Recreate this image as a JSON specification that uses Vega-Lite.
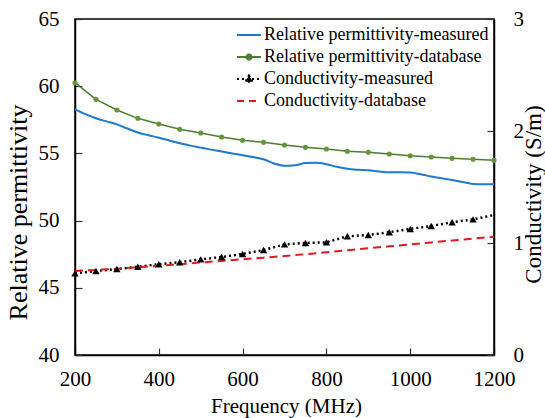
{
  "$schema": "https://vega.github.io/schema/vega-lite/v6.json",
  "width": 419,
  "height": 336,
  "autosize": {"type": "none"},
  "padding": {"left": 75, "top": 19, "right": 51, "bottom": 63},
  "background": "white",
  "config": {
    "font": "Liberation Serif",
    "view": {"stroke": "black", "strokeWidth": 1.5},
    "legend": {
      "orient": "none",
      "legendX": 161,
      "legendY": 3,
      "labelFont": "Liberation Serif",
      "labelFontSize": 18,
      "labelColor": "black",
      "labelLimit": 400,
      "labelOffset": 2,
      "symbolSize": 576,
      "symbolStrokeWidth": 2,
      "rowPadding": -1
    }
  },
  "datasets": {
    "all": [
      {"series": "Relative permittivity-measured", "freq": 200, "value": 58.28},
      {"series": "Relative permittivity-measured", "freq": 225, "value": 57.92},
      {"series": "Relative permittivity-measured", "freq": 250, "value": 57.62},
      {"series": "Relative permittivity-measured", "freq": 275, "value": 57.38},
      {"series": "Relative permittivity-measured", "freq": 300, "value": 57.16},
      {"series": "Relative permittivity-measured", "freq": 325, "value": 56.85},
      {"series": "Relative permittivity-measured", "freq": 350, "value": 56.55},
      {"series": "Relative permittivity-measured", "freq": 375, "value": 56.35},
      {"series": "Relative permittivity-measured", "freq": 400, "value": 56.17},
      {"series": "Relative permittivity-measured", "freq": 425, "value": 55.96},
      {"series": "Relative permittivity-measured", "freq": 450, "value": 55.75},
      {"series": "Relative permittivity-measured", "freq": 475, "value": 55.58},
      {"series": "Relative permittivity-measured", "freq": 500, "value": 55.43},
      {"series": "Relative permittivity-measured", "freq": 525, "value": 55.28},
      {"series": "Relative permittivity-measured", "freq": 550, "value": 55.14},
      {"series": "Relative permittivity-measured", "freq": 575, "value": 55.0},
      {"series": "Relative permittivity-measured", "freq": 600, "value": 54.87},
      {"series": "Relative permittivity-measured", "freq": 625, "value": 54.73},
      {"series": "Relative permittivity-measured", "freq": 650, "value": 54.56},
      {"series": "Relative permittivity-measured", "freq": 675, "value": 54.25},
      {"series": "Relative permittivity-measured", "freq": 700, "value": 54.08},
      {"series": "Relative permittivity-measured", "freq": 725, "value": 54.12},
      {"series": "Relative permittivity-measured", "freq": 750, "value": 54.28},
      {"series": "Relative permittivity-measured", "freq": 775, "value": 54.3},
      {"series": "Relative permittivity-measured", "freq": 800, "value": 54.2},
      {"series": "Relative permittivity-measured", "freq": 825, "value": 54.0},
      {"series": "Relative permittivity-measured", "freq": 850, "value": 53.85},
      {"series": "Relative permittivity-measured", "freq": 875, "value": 53.78},
      {"series": "Relative permittivity-measured", "freq": 900, "value": 53.74},
      {"series": "Relative permittivity-measured", "freq": 925, "value": 53.66},
      {"series": "Relative permittivity-measured", "freq": 950, "value": 53.6},
      {"series": "Relative permittivity-measured", "freq": 975, "value": 53.6},
      {"series": "Relative permittivity-measured", "freq": 1000, "value": 53.58},
      {"series": "Relative permittivity-measured", "freq": 1025, "value": 53.45},
      {"series": "Relative permittivity-measured", "freq": 1050, "value": 53.28},
      {"series": "Relative permittivity-measured", "freq": 1075, "value": 53.15},
      {"series": "Relative permittivity-measured", "freq": 1100, "value": 53.02},
      {"series": "Relative permittivity-measured", "freq": 1125, "value": 52.88},
      {"series": "Relative permittivity-measured", "freq": 1150, "value": 52.73},
      {"series": "Relative permittivity-measured", "freq": 1175, "value": 52.7},
      {"series": "Relative permittivity-measured", "freq": 1200, "value": 52.7},
      {"series": "Relative permittivity-database", "freq": 200, "value": 60.26},
      {"series": "Relative permittivity-database", "freq": 250, "value": 59.02},
      {"series": "Relative permittivity-database", "freq": 300, "value": 58.23},
      {"series": "Relative permittivity-database", "freq": 350, "value": 57.61},
      {"series": "Relative permittivity-database", "freq": 400, "value": 57.19},
      {"series": "Relative permittivity-database", "freq": 450, "value": 56.79},
      {"series": "Relative permittivity-database", "freq": 500, "value": 56.52},
      {"series": "Relative permittivity-database", "freq": 550, "value": 56.22},
      {"series": "Relative permittivity-database", "freq": 600, "value": 55.97},
      {"series": "Relative permittivity-database", "freq": 650, "value": 55.83},
      {"series": "Relative permittivity-database", "freq": 700, "value": 55.63},
      {"series": "Relative permittivity-database", "freq": 750, "value": 55.45},
      {"series": "Relative permittivity-database", "freq": 800, "value": 55.33},
      {"series": "Relative permittivity-database", "freq": 850, "value": 55.16},
      {"series": "Relative permittivity-database", "freq": 900, "value": 55.08},
      {"series": "Relative permittivity-database", "freq": 950, "value": 54.96},
      {"series": "Relative permittivity-database", "freq": 1000, "value": 54.83},
      {"series": "Relative permittivity-database", "freq": 1050, "value": 54.73},
      {"series": "Relative permittivity-database", "freq": 1100, "value": 54.63},
      {"series": "Relative permittivity-database", "freq": 1150, "value": 54.56},
      {"series": "Relative permittivity-database", "freq": 1200, "value": 54.49},
      {"series": "Conductivity-measured", "freq": 200, "value": 0.729},
      {"series": "Conductivity-measured", "freq": 250, "value": 0.75},
      {"series": "Conductivity-measured", "freq": 300, "value": 0.768},
      {"series": "Conductivity-measured", "freq": 350, "value": 0.788},
      {"series": "Conductivity-measured", "freq": 400, "value": 0.81},
      {"series": "Conductivity-measured", "freq": 450, "value": 0.828},
      {"series": "Conductivity-measured", "freq": 500, "value": 0.854},
      {"series": "Conductivity-measured", "freq": 550, "value": 0.875},
      {"series": "Conductivity-measured", "freq": 600, "value": 0.902},
      {"series": "Conductivity-measured", "freq": 650, "value": 0.937},
      {"series": "Conductivity-measured", "freq": 700, "value": 0.988},
      {"series": "Conductivity-measured", "freq": 750, "value": 1.0},
      {"series": "Conductivity-measured", "freq": 800, "value": 1.006},
      {"series": "Conductivity-measured", "freq": 850, "value": 1.06},
      {"series": "Conductivity-measured", "freq": 900, "value": 1.071},
      {"series": "Conductivity-measured", "freq": 950, "value": 1.096},
      {"series": "Conductivity-measured", "freq": 1000, "value": 1.125},
      {"series": "Conductivity-measured", "freq": 1050, "value": 1.152},
      {"series": "Conductivity-measured", "freq": 1100, "value": 1.185},
      {"series": "Conductivity-measured", "freq": 1150, "value": 1.211},
      {"series": "Conductivity-measured", "freq": 1200, "value": 1.25},
      {"series": "Conductivity-database", "freq": 200, "value": 0.75},
      {"series": "Conductivity-database", "freq": 250, "value": 0.76},
      {"series": "Conductivity-database", "freq": 300, "value": 0.77},
      {"series": "Conductivity-database", "freq": 350, "value": 0.783},
      {"series": "Conductivity-database", "freq": 400, "value": 0.797},
      {"series": "Conductivity-database", "freq": 450, "value": 0.81},
      {"series": "Conductivity-database", "freq": 500, "value": 0.826},
      {"series": "Conductivity-database", "freq": 550, "value": 0.84},
      {"series": "Conductivity-database", "freq": 600, "value": 0.855},
      {"series": "Conductivity-database", "freq": 650, "value": 0.869},
      {"series": "Conductivity-database", "freq": 700, "value": 0.884},
      {"series": "Conductivity-database", "freq": 750, "value": 0.9},
      {"series": "Conductivity-database", "freq": 800, "value": 0.918},
      {"series": "Conductivity-database", "freq": 850, "value": 0.935},
      {"series": "Conductivity-database", "freq": 900, "value": 0.953},
      {"series": "Conductivity-database", "freq": 950, "value": 0.97},
      {"series": "Conductivity-database", "freq": 1000, "value": 0.988},
      {"series": "Conductivity-database", "freq": 1050, "value": 1.005},
      {"series": "Conductivity-database", "freq": 1100, "value": 1.022},
      {"series": "Conductivity-database", "freq": 1150, "value": 1.039},
      {"series": "Conductivity-database", "freq": 1200, "value": 1.056}
    ]
  },
  "data": {"name": "all"},
  "encoding": {
    "x": {
      "field": "freq",
      "type": "quantitative",
      "scale": {"domain": [200, 1200], "nice": false, "zero": false},
      "axis": {
        "title": "Frequency (MHz)",
        "values": [200, 400, 600, 800, 1000, 1200],
        "format": "d",
        "grid": false,
        "domainColor": "black",
        "domainWidth": 1.5,
        "tickColor": "#333333",
        "tickWidth": 1.2,
        "tickSize": -7,
        "labelFont": "Liberation Serif",
        "labelFontSize": 21,
        "labelColor": "black",
        "labelFlush": false,
        "labelOverlap": false,
        "labelPadding": 20,
        "titleFont": "Liberation Serif",
        "titleFontSize": 21,
        "titleFontWeight": "normal",
        "titleColor": "black",
        "titleX": 211,
        "titleY": 57,
        "titleBaseline": "alphabetic",
        "titleAlign": "center"
      }
    }
  },
  "layer": [
    {
      "layer": [
        {
          "transform": [{"filter": "datum.series === 'Relative permittivity-measured'"}],
          "mark": {"type": "line", "strokeWidth": 2, "interpolate": "monotone", "color": "#1F78D2"},
          "encoding": {
            "y": {
              "field": "value",
              "type": "quantitative",
              "scale": {"domain": [40, 65], "nice": false, "zero": false},
              "axis": {
                "title": "Relative permittivity",
                "orient": "left",
                "values": [40, 45, 50, 55, 60, 65],
                "format": "d",
                "grid": false,
                "domainColor": "black",
                "domainWidth": 1.5,
                "tickColor": "#333333",
                "tickWidth": 1.2,
                "tickSize": -7,
                "labelFont": "Liberation Serif",
                "labelFontSize": 21,
                "labelColor": "black",
                "labelFlush": false,
                "labelOverlap": false,
                "labelPadding": 23,
                "titleFont": "Liberation Serif",
                "titleFontSize": 26,
                "titleFontWeight": "normal",
                "titleColor": "black",
                "titleAngle": 270,
                "titleX": -49,
                "titleY": 193,
                "titleBaseline": "alphabetic",
                "titleAlign": "center"
              }
            }
          }
        },
        {
          "transform": [{"filter": "datum.series === 'Relative permittivity-database'"}],
          "mark": {"type": "line", "strokeWidth": 1.5, "color": "#4E7D2F"},
          "encoding": {
            "y": {"field": "value", "type": "quantitative"}
          }
        },
        {
          "transform": [{"filter": "datum.series === 'Relative permittivity-database'"}],
          "mark": {"type": "point", "shape": "circle", "filled": true, "size": 26, "color": "#63963A", "opacity": 1},
          "encoding": {
            "y": {"field": "value", "type": "quantitative"}
          }
        }
      ]
    },
    {
      "layer": [
        {
          "transform": [{"filter": "datum.series === 'Conductivity-measured'"}],
          "mark": {"type": "line", "strokeWidth": 2.5, "strokeDash": [2, 3], "color": "#000000"},
          "encoding": {
            "y": {
              "field": "value",
              "type": "quantitative",
              "scale": {"domain": [0, 3], "nice": false},
              "axis": {
                "title": "Conductivity (S/m)",
                "orient": "right",
                "values": [0, 1, 2, 3],
                "format": "d",
                "grid": false,
                "domainColor": "black",
                "domainWidth": 1.5,
                "tickColor": "#333333",
                "tickWidth": 1.2,
                "tickSize": -7,
                "labelFont": "Liberation Serif",
                "labelFontSize": 21,
                "labelColor": "black",
                "labelFlush": false,
                "labelOverlap": false,
                "labelPadding": 26,
                "titleFont": "Liberation Serif",
                "titleFontSize": 23,
                "titleFontWeight": "normal",
                "titleColor": "black",
                "titleAngle": 270,
                "titleX": 46,
                "titleY": 175,
                "titleBaseline": "alphabetic",
                "titleAlign": "center"
              }
            }
          }
        },
        {
          "transform": [{"filter": "datum.series === 'Conductivity-database'"}],
          "mark": {"type": "line", "strokeWidth": 2, "strokeDash": [8, 5], "color": "#E31A1C"},
          "encoding": {
            "y": {"field": "value", "type": "quantitative"}
          }
        },
        {
          "transform": [{"filter": "datum.series === 'Conductivity-measured' && datum.freq < 1200"}],
          "mark": {"type": "point", "shape": "triangle-up", "filled": true, "size": 55, "color": "#000000", "opacity": 1},
          "encoding": {
            "y": {"field": "value", "type": "quantitative"}
          }
        },
        {
          "transform": [{"filter": "datum.freq < 0"}],
          "mark": {"type": "point", "opacity": 1},
          "encoding": {
            "y": {"field": "value", "type": "quantitative"},
            "fill": {
              "field": "series",
              "type": "nominal",
              "scale": {
                "domain": ["Relative permittivity-measured", "Relative permittivity-database", "Conductivity-measured", "Conductivity-database"],
                "range": ["transparent", "#63963A", "#000000", "transparent"]
              },
              "legend": {"title": null}
            },
            "stroke": {
              "field": "series",
              "type": "nominal",
              "scale": {
                "domain": ["Relative permittivity-measured", "Relative permittivity-database", "Conductivity-measured", "Conductivity-database"],
                "range": ["#1F78D2", "#4E7D2F", "#000000", "#E31A1C"]
              },
              "legend": {"title": null}
            },
            "shape": {
              "field": "series",
              "type": "nominal",
              "scale": {
                "domain": ["Relative permittivity-measured", "Relative permittivity-database", "Conductivity-measured", "Conductivity-database"],
                "range": ["M-1,0H1", "M-1,0H1M0.21,0A0.21,0.21,0,1,1,-0.21,0A0.21,0.21,0,1,1,0.21,0Z", "M-1,0H1M0,-0.3L0.3,0.22L-0.3,0.22Z", "M-1,0H1"]
              },
              "legend": {"title": null}
            },
            "strokeDash": {
              "field": "series",
              "type": "nominal",
              "scale": {
                "domain": ["Relative permittivity-measured", "Relative permittivity-database", "Conductivity-measured", "Conductivity-database"],
                "range": [[1, 0], [1, 0], [2, 3], [7, 5]]
              },
              "legend": {"title": null}
            }
          }
        }
      ]
    }
  ],
  "resolve": {"scale": {"y": "independent"}}
}
